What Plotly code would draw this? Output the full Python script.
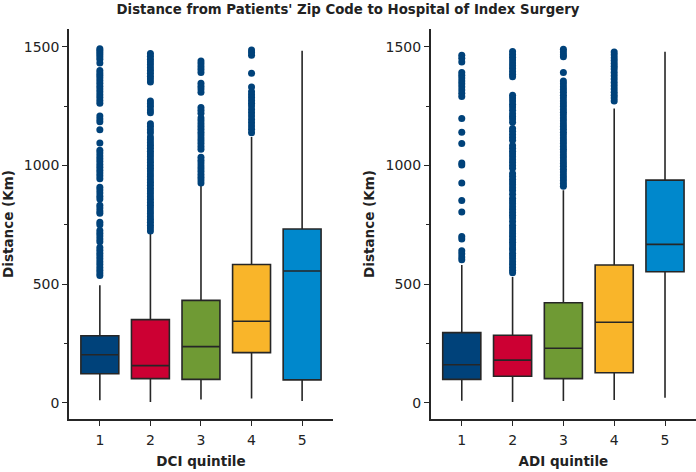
import plotly.graph_objects as go
from plotly.subplots import make_subplots

TITLE = "Distance from Patients' Zip Code to Hospital of Index Surgery"
categories = [1, 2, 3, 4, 5]
colors = ["#00427A", "#CC0033", "#6F9A34", "#F9B52A", "#0088CC"]
outlier_color = "#00427A"

# DCI quintile box statistics (km)
dci_q1 = [122, 101, 98, 211, 96]
dci_median = [202, 156, 236, 343, 555]
dci_q3 = [282, 350, 431, 582, 732]
dci_low = [10, 3, 13, 17, 7]
dci_high = [495, 712, 915, 1120, 1483]

# ADI quintile box statistics (km)
adi_q1 = [98, 111, 101, 126, 552]
adi_median = [160, 179, 229, 339, 667]
adi_q3 = [295, 284, 421, 580, 938]
adi_low = [8, 3, 7, 11, 21]
adi_high = [580, 530, 895, 1240, 1479]

# Outliers
dci_out_1 = [1492, 1484, 1476, 1468, 1458, 1448, 1432, 1400, 1390, 1380, 1370, 1358, 1346, 1334,
             1322, 1310, 1298, 1286, 1274, 1262, 1208, 1196, 1184, 1150, 1094, 1064, 1052, 1040,
             1028, 1016, 1004, 992, 980, 968, 956, 944, 908, 896, 884, 870, 858, 832, 820, 808,
             798, 760, 750, 726, 714, 702, 690, 678, 654, 642, 630, 618, 606, 594, 582, 570, 558,
             546, 536]
dci_out_2 = [1472, 1460, 1448, 1436, 1424, 1412, 1400, 1388, 1376, 1364, 1352, 1272, 1260, 1248,
             1234, 1222, 1176, 1164, 1150, 1138, 1120, 1108, 1096, 1084, 1072, 1060, 1048, 1036,
             1024, 1012, 1000, 988, 976, 964, 952, 940, 928, 916, 904, 892, 880, 868, 856, 844,
             832, 820, 808, 796, 784, 772, 760, 748, 736, 724]
dci_out_3 = [1440, 1428, 1416, 1404, 1392, 1346, 1334, 1322, 1308, 1244, 1232, 1220, 1200, 1188,
             1176, 1164, 1152, 1140, 1128, 1116, 1104, 1092, 1080, 1068, 1034, 1022, 1010, 998,
             986, 974, 962, 950, 938, 926]
dci_out_4 = [1486, 1476, 1464, 1388, 1330, 1310, 1298, 1286, 1274, 1262, 1250, 1236, 1222, 1208,
             1194, 1180, 1166, 1152, 1138]
dci_out_5 = []

adi_out_1 = [1464, 1452, 1436, 1392, 1380, 1368, 1356, 1344, 1332, 1318, 1304, 1290, 1198, 1140,
             1092, 1010, 1002, 926, 852, 804, 700, 690, 640, 628, 614, 602]
adi_out_2 = [1480, 1468, 1456, 1444, 1432, 1420, 1408, 1396, 1384, 1374, 1296, 1284, 1272, 1258,
             1246, 1232, 1218, 1206, 1196, 1182, 1156, 1144, 1130, 1118, 1106, 1084, 1072, 1060,
             1048, 1036, 1024, 1012, 1000, 988, 966, 954, 942, 930, 918, 906, 894, 878, 862, 850,
             838, 826, 814, 802, 790, 778, 764, 748, 736, 724, 712, 700, 688, 676, 664, 652, 644,
             630, 618, 606, 594, 582, 570, 558, 548]
adi_out_3 = [1490, 1478, 1466, 1458, 1392, 1356, 1344, 1332, 1320, 1308, 1296, 1284, 1272, 1260,
             1248, 1236, 1224, 1212, 1200, 1188, 1176, 1164, 1152, 1140, 1128, 1116, 1104, 1092,
             1080, 1068, 1056, 1044, 1032, 1020, 1008, 996, 984, 972, 960, 948, 936, 924, 912]
adi_out_4 = [1478, 1466, 1454, 1442, 1430, 1418, 1406, 1392, 1378, 1364, 1350, 1336, 1322, 1308,
             1296, 1284, 1272]
adi_out_5 = []

dci_outliers = [dci_out_1, dci_out_2, dci_out_3, dci_out_4, dci_out_5]
adi_outliers = [adi_out_1, adi_out_2, adi_out_3, adi_out_4, adi_out_5]

FONT = "DejaVu Sans, Liberation Sans, Arial, sans-serif"
TXT = "#222222"

fig = make_subplots(rows=1, cols=2, horizontal_spacing=0.0)

panels = [
    (1, dci_q1, dci_median, dci_q3, dci_low, dci_high, dci_outliers),
    (2, adi_q1, adi_median, adi_q3, adi_low, adi_high, adi_outliers),
]
for col, q1, med, q3, lo, hi, outs in panels:
    for i, c in enumerate(categories):
        fig.add_trace(go.Box(
            x=[c], q1=[q1[i]], median=[med[i]], q3=[q3[i]],
            lowerfence=[lo[i]], upperfence=[hi[i]],
            width=0.75, whiskerwidth=0, boxpoints=False,
            fillcolor=colors[i], line=dict(color="#262626", width=1.6),
            showlegend=False, hoverinfo="skip"), row=1, col=col)
    for i, c in enumerate(categories):
        if outs[i]:
            fig.add_trace(go.Scatter(
                x=[c] * len(outs[i]), y=outs[i], mode="markers",
                marker=dict(color=outlier_color, size=7, line=dict(width=0)),
                showlegend=False, hoverinfo="skip"), row=1, col=col)

axis_common = dict(showline=True, linecolor="#262626", linewidth=1.6, ticks="outside",
                   ticklen=5, tickwidth=1.2, tickcolor="#262626", showgrid=False,
                   zeroline=False, automargin=False,
                   tickfont=dict(family=FONT, size=14, color=TXT))

fig.update_xaxes(**axis_common, range=[0.39, 5.61], tickvals=categories,
                 ticktext=[str(c) for c in categories], ticklabelstandoff=2)
fig.update_yaxes(**axis_common, range=[-69, 1575], tickvals=[0, 500, 1000, 1500],
                 minor=dict(tickvals=[250, 750, 1250], ticklen=3, ticks="outside",
                            tickcolor="#262626", tickwidth=1.2),
                 title=dict(text="<b>Distance (Km)</b>", font=dict(family=FONT, size=13.5, color=TXT),
                            standoff=8))

fig.update_layout(
    width=696, height=472,
    margin=dict(l=69, r=0, t=29, b=53),
    plot_bgcolor="white", paper_bgcolor="white",
    boxmode="overlay",
    title=dict(text="<b>" + TITLE + "</b>", x=0.5, xanchor="center", y=1 - 9 / 472,
               yanchor="middle", font=dict(family=FONT, size=13.3, color=TXT)),
    xaxis=dict(domain=[0, 0.421],
               title=dict(text="<b>DCI quintile</b>", font=dict(family=FONT, size=13.5, color=TXT),
                          standoff=10)),
    xaxis2=dict(domain=[0.577, 1.0],
                title=dict(text="<b>ADI quintile</b>", font=dict(family=FONT, size=13.5, color=TXT),
                           standoff=10)),
)

fig.write_html("out.html", config={"displayModeBar": False},
               post_script="document.body.style.margin='0';")
